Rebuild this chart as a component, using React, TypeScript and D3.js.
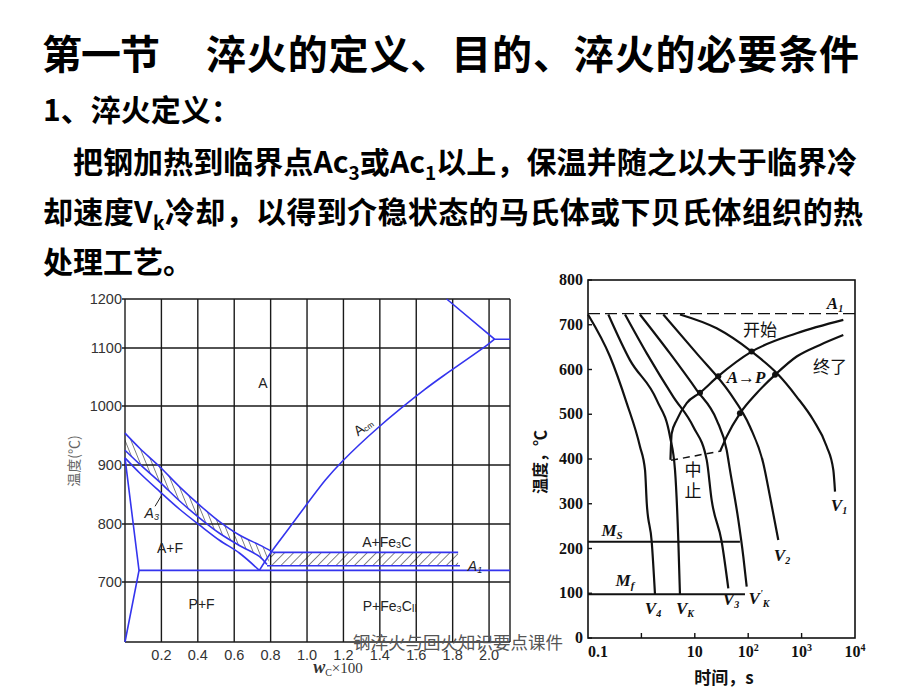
import React from 'react';
import * as d3 from 'd3';

// slide text
const titleHead = '第一节';
const titleBody = '淬火的定义、目的、淬火的必要条件';
const subHead = '1、淬火定义：';

// left chart: steel corner of Fe-Fe3C diagram (wC x100, temperature C)
const carbonTicks = [0.2, 0.4, 0.6, 0.8, 1.0, 1.2, 1.4, 1.6, 1.8, 2.0];
const tempTicks = [700, 800, 900, 1000, 1100, 1200];
const ac3Upper = [[0, 954], [0.082, 928], [0.191, 897], [0.3, 863], [0.41, 832], [0.519, 804], [0.628, 781], [0.738, 764], [0.81, 752]];
const ac3Lower = [[0, 925], [0.082, 901], [0.191, 871], [0.3, 839], [0.41, 810], [0.519, 784], [0.628, 763], [0.738, 744], [0.78, 730]];
const gsLine = [[0, 912], [0.082, 886], [0.191, 855], [0.3, 825], [0.41, 798], [0.519, 772], [0.628, 750], [0.738, 720]];
const gpqLine = [[0, 912], [0.077, 720], [0, 600]];
const a1Line = [[0.077, 720], [2.115, 720]];
const acmLine = [[0.738, 720], [0.8, 750], [0.902, 793], [1.102, 875], [1.193, 906], [1.393, 964], [1.649, 1029], [1.785, 1060], [1.989, 1106], [2.03, 1118]];
const ecfLine = [[1.767, 1200], [2.03, 1118], [2.115, 1118]];
const ac1BandTop = [[0.81, 751], [1.83, 751]];
const ac1BandBottom = [[0.78, 728], [1.84, 728]];

// right chart: CCT diagram (time s, temperature C)
const timeTicks = [1, 10, 100, 1000];
const tempTicksR = [0, 100, 200, 300, 400, 500, 600, 700, 800];
const v4 = [[0.1, 723], [0.258, 629], [0.531, 525], [0.94, 428], [1.17, 375], [1.26, 301], [1.56, 215], [1.8, 96]];
const vk = [[0.24, 723], [0.611, 621], [1.93, 532], [3.43, 450], [4.26, 375], [4.91, 219], [5.28, 96]];
const v3 = [[0.493, 723], [1.26, 636], [3.96, 539], [9.37, 472], [16.7, 398], [20.7, 308], [31.9, 215], [42.4, 111]];
const vk2 = [[0.94, 723], [3.43, 636], [10.85, 554], [25.7, 487], [39.5, 420], [45.6, 375], [65.3, 264], [81, 182], [93.7, 115]];
const v2 = [[2.57, 723], [10.85, 636], [45.6, 547], [108, 472], [192, 390], [256, 316], [366, 219]];
const v1 = [[5.28, 723], [25.7, 692], [116, 640], [342, 592], [809, 539], [1656, 487], [2951, 428], [3930, 375], [4226, 327]];
const pearliteStart = [[3.5, 398], [3.69, 457], [4.58, 487], [7.05, 525], [12.5, 548], [27.5, 585], [116, 640], [809, 681], [6040, 711]];
const pearliteEnd = [[30, 418], [39.5, 450], [70.2, 502], [144, 547], [318, 588], [809, 629], [2213, 655], [6040, 677]];
const interrupt = [[3.6, 397], [31, 418]];
const a1Temp = 725;
const msTemp = 215;
const mfTemp = 98;
const msEnd = 70;
const mfEnd = 87;
const crossDots = [[116, 640], [318, 588], [27.5, 585], [12.5, 548], [70, 502]];

const blue = '#3434ee';
const cjk = '"Noto Sans CJK SC", sans-serif';
const serif = '"Liberation Serif", "DejaVu Serif", serif';
const sans = '"Liberation Sans", Arial, sans-serif';

export default function App() {
  const xC = d3.scaleLinear().domain([0, 2.115]).range([125, 510]);
  // the scanned chart is not evenly spaced, so use its own tick positions
  const yT = d3.scaleLinear().domain([600, 700, 800, 900, 1000, 1100, 1200]).range([642, 582, 524, 465, 406, 348, 299]);
  const smooth = d3.line<number[]>().x(d => xC(d[0])).y(d => yT(d[1])).curve(d3.curveCatmullRom);
  const straight = d3.line<number[]>().x(d => xC(d[0])).y(d => yT(d[1]));

  const xL = d3.scaleLog().domain([0.1, 10000]).range([588, 855]);
  const yR = d3.scaleLinear().domain([0, 800]).range([638, 280]);
  const curveR = d3.line<number[]>().x(d => xL(d[0])).y(d => yR(d[1])).curve(d3.curveMonotoneX);
  const lineR = d3.line<number[]>().x(d => xL(d[0])).y(d => yR(d[1]));

  const hatchPath = smooth(ac3Upper) + smooth(ac3Lower.slice().reverse())!.replace(/^M/, 'L') + 'Z';

  const coolingCurves = [v4, vk, v3, vk2, v2, v1];

  return (
    <svg width={920} height={690} style={{ position: 'absolute', left: 0, top: 0, background: '#fff' }}>
      <defs>
        <pattern id="hatchBack" width={5.5} height={5.5} patternUnits="userSpaceOnUse" patternTransform="rotate(-22)">
          <line x1={0} y1={0} x2={0} y2={5.5} stroke="#444" strokeWidth={1.3} />
        </pattern>
        <pattern id="hatchFwd" width={6.5} height={6.5} patternUnits="userSpaceOnUse" patternTransform="rotate(45)">
          <line x1={0} y1={0} x2={0} y2={6.5} stroke="#444" strokeWidth={1.3} />
        </pattern>
      </defs>
      <rect width={920} height={690} fill="#fff" />

      {/* heading and definition */}
      <g fontFamily={cjk} fontWeight={700} fill="#000">
        <text x={42} y={69} fontSize={40} textLength={118} lengthAdjust="spacing">{titleHead}</text>
        <text x={206} y={69} fontSize={40} textLength={653} lengthAdjust="spacing">{titleBody}</text>
        <text x={43} y={121} fontSize={30}>{subHead}</text>
        <text x={73} y={173} fontSize={30} textLength={784} lengthAdjust="spacing">
          把钢加热到临界点Ac<tspan fontSize={19} dy={7}>3</tspan>
          <tspan dy={-7}>或Ac</tspan><tspan fontSize={19} dy={7}>1</tspan>
          <tspan dy={-7}>以上，保温并随之以大于临界冷</tspan>
        </text>
        <text x={43} y={223} fontSize={30} textLength={820} lengthAdjust="spacing">
          却速度V<tspan fontSize={19} dy={7}>k</tspan>
          <tspan dy={-7}>冷却，以得到介稳状态的马氏体或下贝氏体组织的热</tspan>
        </text>
        <text x={43} y={273} fontSize={30}>处理工艺。</text>
      </g>

      {/* left chart */}
      <g>
        <path d={hatchPath} fill="url(#hatchBack)" stroke="none" />
        <rect x={xC(0.8)} y={yT(751)} width={xC(1.83) - xC(0.8)} height={yT(728) - yT(751)} fill="url(#hatchFwd)" />
        <g stroke="#1a1a1a" strokeWidth={1.4}>
          {carbonTicks.map(c => (
            <line key={c} x1={xC(c)} x2={xC(c)} y1={yT(600)} y2={yT(1200)} />
          ))}
          {tempTicks.map(t => (
            <line key={t} x1={xC(0) - 3} x2={xC(2.115)} y1={yT(t)} y2={yT(t)} />
          ))}
          <line x1={xC(0)} x2={xC(0)} y1={yT(600)} y2={yT(1200)} />
          <line x1={xC(2.115)} x2={xC(2.115)} y1={yT(600)} y2={yT(1200)} />
          <line x1={xC(0)} x2={xC(2.115)} y1={yT(600)} y2={yT(600)} />
        </g>
        <g fill="none" stroke={blue} strokeWidth={1.6}>
          <path d={smooth(ac3Upper)!} />
          <path d={smooth(ac3Lower)!} />
          <path d={smooth(gsLine)!} />
          <path d={straight(gpqLine)!} />
          <path d={straight(a1Line)!} />
          <path d={smooth(acmLine)!} />
          <path d={straight(ecfLine)!} />
          <path d={straight(ac1BandTop)!} />
          <path d={straight(ac1BandBottom)!} />
        </g>
        <g fontFamily={sans} fontSize={14.5} fill="#333">
          {tempTicks.map(t => (
            <text key={t} x={122} y={yT(t) + 5} textAnchor="end">{t}</text>
          ))}
          {carbonTicks.map(c => (
            <text key={c} x={xC(c)} y={660} textAnchor="middle">{c.toFixed(1)}</text>
          ))}
        </g>
        <text transform="translate(79,461) rotate(-90)" textAnchor="middle" fontFamily={cjk} fontSize={14} fill="#666">温度(℃)</text>
        <text x={338} y={673} textAnchor="middle" fill="#333" fontFamily={serif}>
          <tspan fontSize={18} fontStyle="italic" fontWeight={700}>w</tspan>
          <tspan fontSize={10} dy={3}>C</tspan>
          <tspan fontSize={15} dy={-3}>×100</tspan>
        </text>
        <g fontFamily={sans} fontSize={14} fill="#222">
          <text x={xC(0.757)} y={yT(1039) + 5} textAnchor="middle">A</text>
          <text x={xC(0.247)} y={yT(758) + 5} textAnchor="middle">A+F</text>
          <text x={xC(1.438)} y={yT(769) + 5} textAnchor="middle">A+Fe<tspan fontSize={9} dy={1}>3</tspan><tspan dy={-1}>C</tspan></text>
          <text x={xC(0.421)} y={yT(664) + 5} textAnchor="middle">P+F</text>
          <text x={xC(1.456)} y={yT(660) + 5} textAnchor="middle">P+Fe<tspan fontSize={9} dy={1}>3</tspan><tspan dy={-1}>C</tspan><tspan fontSize={10} dy={1}>II</tspan></text>
          <text x={xC(0.147)} y={yT(818) + 5} textAnchor="middle" fontStyle="italic">A<tspan fontSize={9} dy={2}>3</tspan></text>
          <line x1={xC(0.165)} y1={yT(830)} x2={xC(0.2)} y2={yT(848)} stroke="#222" strokeWidth={1} />
          <text x={xC(1.923)} y={yT(727) + 5} textAnchor="middle" fontStyle="italic">A<tspan fontSize={9} dy={2}>1</tspan></text>
          <text transform={`translate(${xC(1.308)},${yT(965)}) rotate(-36)`} textAnchor="middle" y={5}>A<tspan fontSize={8} dy={1}>cm</tspan></text>
        </g>
      </g>

      {/* right chart */}
      <g>
        <rect x={xL(0.1)} y={yR(800)} width={xL(10000) - xL(0.1)} height={yR(0) - yR(800)} fill="none" stroke="#111" strokeWidth={1.6} />
        <line x1={xL(0.1)} x2={xL(10000)} y1={yR(a1Temp)} y2={yR(a1Temp)} stroke="#111" strokeWidth={1.3} strokeDasharray="12 5" />
        <g stroke="#111" strokeWidth={1.4}>
          {timeTicks.map(t => (
            <line key={t} x1={xL(t)} x2={xL(t)} y1={yR(0)} y2={yR(0) - 5} />
          ))}
          {tempTicksR.map(t => (
            <line key={t} x1={xL(0.1)} x2={xL(0.1) + 4} y1={yR(t)} y2={yR(t)} />
          ))}
        </g>
        <g fill="none" stroke="#111" strokeWidth={2.2}>
          {coolingCurves.map((c, i) => (
            <path key={i} d={curveR(c)!} />
          ))}
          <path d={curveR(pearliteStart)!} />
          <path d={curveR(pearliteEnd)!} />
          <path d={lineR([[0.1, msTemp], [msEnd, msTemp]])!} strokeWidth={2} />
          <path d={lineR([[0.1, mfTemp], [mfEnd, mfTemp]])!} strokeWidth={2} />
          <path d={lineR(interrupt)!} strokeWidth={1.5} strokeDasharray="7 5" />
        </g>
        {crossDots.map((d, i) => (
          <circle key={i} cx={xL(d[0])} cy={yR(d[1])} r={3} fill="#111" />
        ))}
        <g fontFamily={serif} fontWeight={700} fontSize={16} fill="#111">
          {tempTicksR.map(t => (
            <text key={t} x={583} y={yR(t) + 5} textAnchor="end">{t}</text>
          ))}
          <text x={xL(0.1)} y={657} textAnchor="start">0.1</text>
          <text x={xL(10)} y={657} textAnchor="middle">10</text>
          <text x={xL(100)} y={657} textAnchor="middle">10<tspan fontSize={10} dy={-6}>2</tspan></text>
          <text x={xL(1000)} y={657} textAnchor="middle">10<tspan fontSize={10} dy={-6}>3</tspan></text>
          <text x={xL(10000)} y={657} textAnchor="middle">10<tspan fontSize={10} dy={-6}>4</tspan></text>
        </g>
        <g fontFamily={serif} fontWeight={700} fontStyle="italic" fontSize={17} fill="#111">
          <text x={835} y={309} textAnchor="middle">A<tspan fontSize={10} dy={3}>1</tspan></text>
          <text x={746} y={383} textAnchor="middle">A→P</text>
          <text x={612} y={536} textAnchor="middle">M<tspan fontSize={11} dy={3}>S</tspan></text>
          <text x={625} y={586} textAnchor="middle">M<tspan fontSize={11} dy={3}>f</tspan></text>
          <text x={653} y={614} textAnchor="middle">V<tspan fontSize={10} dy={3}>4</tspan></text>
          <text x={685} y={614} textAnchor="middle">V<tspan fontSize={10} dy={3}>K</tspan></text>
          <text x={731} y={605} textAnchor="middle">V<tspan fontSize={10} dy={3}>3</tspan></text>
          <text x={759} y={604} textAnchor="middle">V<tspan fontSize={10} dy={-7}>'</tspan><tspan fontSize={10} dy={10}>K</tspan></text>
          <text x={782} y={561} textAnchor="middle">V<tspan fontSize={10} dy={3}>2</tspan></text>
          <text x={839} y={511} textAnchor="middle">V<tspan fontSize={10} dy={3}>1</tspan></text>
        </g>
        <g fontFamily={cjk} fontSize={17} fill="#111">
          <text x={760} y={336} textAnchor="middle">开始</text>
          <text x={830} y={373} textAnchor="middle">终了</text>
          <text x={693} y={476} textAnchor="middle">中</text>
          <text x={693} y={497} textAnchor="middle">止</text>
        </g>
        <text x={724} y={684} textAnchor="middle" fontFamily={cjk} fontWeight={700} fontSize={17} fill="#111">时间，s</text>
        <text transform="translate(546,462) rotate(-90)" textAnchor="middle" fontFamily={cjk} fontWeight={700} fontSize={16} fill="#111">温度，℃</text>
      </g>

      <text x={353} y={649} fontFamily={cjk} fontSize={17.5} fill="#555">钢淬火与回火知识要点课件</text>
    </svg>
  );
}
